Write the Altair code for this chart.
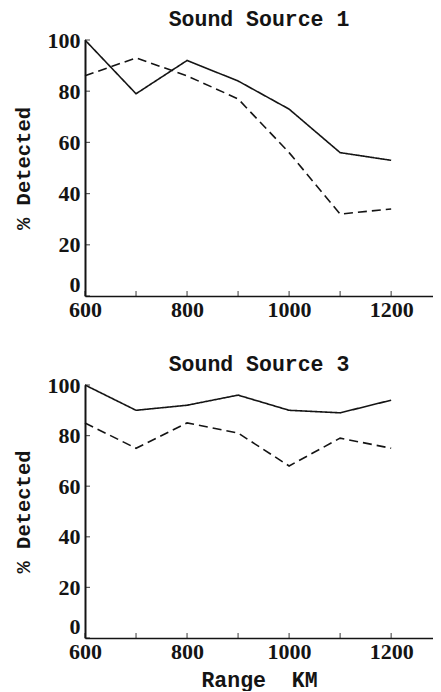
import altair as alt
import pandas as pd

# ---- data ----
ranges = [600, 700, 800, 900, 1000, 1100, 1200]
src1_solid = [100, 79, 92, 84, 73, 56, 53]
src1_dashed = [86, 93, 86, 77, 56, 32, 34]
src3_solid = [100, 90, 92, 96, 90, 89, 94]
src3_dashed = [85, 75, 85, 81, 68, 79, 75]

x_tick_values = [600, 700, 800, 900, 1000, 1100, 1200]
x_label_values = [600, 800, 1000, 1200]
y_tick_values = [0, 20, 40, 60, 80, 100]
x_domain = [600, 1282]

INK = "#141414"
LABEL_FONT = "Liberation Serif"
TITLE_FONT = "Liberation Mono"


def panel(title, solid, dashed, height, x_title):
    df = pd.DataFrame({
        "range": ranges * 2,
        "pct": solid + dashed,
        "series": ["solid"] * len(ranges) + ["dashed"] * len(ranges),
    })
    xscale = alt.Scale(domain=x_domain, nice=False, zero=False)
    yscale = alt.Scale(domain=[0, 100], nice=False, zero=True)

    x_axis = alt.Axis(
        values=x_label_values, title=x_title, ticks=False, tickSize=0, format="d",
        labelPadding=3, labelFlush=False, grid=False,
        labelFont=LABEL_FONT, labelFontSize=22, labelFontWeight="bold", labelColor=INK,
        domainColor=INK, domainWidth=1.6,
        titleFont=TITLE_FONT, titleFontSize=21.5, titleFontWeight="bold", titleColor=INK,
        titlePadding=7,
    )
    y_axis = alt.Axis(
        values=y_tick_values, title="% Detected", ticks=False, tickSize=0,
        labelPadding=5, grid=False,
        labelBaseline={"condition": {"test": "datum.value == 0", "value": "bottom"},
                       "value": "middle"},
        labelFont=LABEL_FONT, labelFontSize=22, labelFontWeight="bold", labelColor=INK,
        domainColor=INK, domainWidth=2,
        titleFont=TITLE_FONT, titleFontSize=20.5, titleFontWeight="bold", titleColor=INK,
        titlePadding=14,
    )

    lines = alt.Chart(df).mark_line(color=INK, strokeWidth=1.6).encode(
        x=alt.X("range:Q", scale=xscale, axis=x_axis),
        y=alt.Y("pct:Q", scale=yscale, axis=y_axis),
        strokeDash=alt.StrokeDash(
            "series:N",
            scale=alt.Scale(domain=["solid", "dashed"], range=[[1, 0], [9, 5]]),
            legend=None,
        ),
        detail="series:N",
    )

    xt = alt.Chart(pd.DataFrame({"range": x_tick_values})).mark_tick(
        orient="vertical", size=5, thickness=1.2, color=INK
    ).encode(x=alt.X("range:Q"), y=alt.value(height - 2.5))

    yt = alt.Chart(pd.DataFrame({"pct": y_tick_values})).mark_tick(
        orient="horizontal", size=5, thickness=1.2, color=INK
    ).encode(y=alt.Y("pct:Q"), x=alt.value(2.5))

    return alt.layer(lines, xt, yt).properties(
        width=348, height=height,
        title=alt.TitleParams(
            title, font=TITLE_FONT, fontSize=21.5, fontWeight="bold", color=INK,
            anchor="middle", frame="group", offset=-7.2, dy=-6,
        ),
    )


top = panel("Sound Source 1", src1_solid, src1_dashed, 256, None)
bottom = panel("Sound Source 3", src3_solid, src3_dashed, 253, "Range\u00a0\u00a0KM")

chart = alt.vconcat(top, bottom, spacing=33).properties(
    padding={"left": 5, "top": 0, "right": 0, "bottom": 0},
    background="white",
).configure_view(stroke=None)

chart.save("out.html", embed_options={"renderer": "svg", "actions": False})
